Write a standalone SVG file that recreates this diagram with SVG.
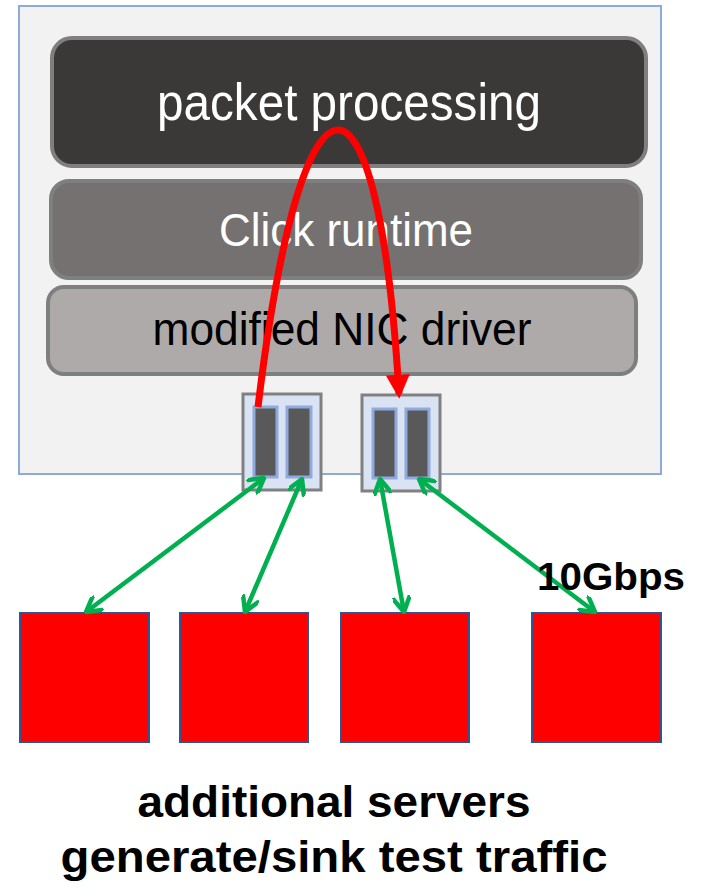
<svg xmlns="http://www.w3.org/2000/svg" width="702" height="891" viewBox="0 0 702 891">
<defs>
<style>
.t{font-family:"Liberation Sans","Open Sans",sans-serif;text-anchor:middle}
.layer{stroke:#7f7f7f;stroke-width:4}
.nic{fill:#dae3f3;stroke:#808080;stroke-width:3}
.port{fill:#595959;stroke:#8faadc;stroke-width:3}
.srv{fill:#ff0000;stroke:#2f5597;stroke-width:2}
.g{fill:none;stroke:#00b050;stroke-width:4.5;marker-start:url(#ga);marker-end:url(#ga)}
</style>
<marker id="ga" viewBox="-16 -9 18 18" markerWidth="18" markerHeight="18" refX="0" refY="0" orient="auto-start-reverse" markerUnits="userSpaceOnUse">
<path d="M-14,-8 L0,0 L-14,8" fill="none" stroke="#00b050" stroke-width="4.5" stroke-linecap="round" stroke-linejoin="round"/>
</marker>
<marker id="ra" viewBox="0 0 10 10" markerWidth="24" markerHeight="24" refX="8" refY="5" orient="auto" markerUnits="userSpaceOnUse">
<path d="M0,0 L10,5 L0,10 Z" fill="#ff0000"/>
</marker>
</defs>
<rect id="host" x="19" y="6" width="642" height="468" fill="#f2f2f2" stroke="#8eaadb" stroke-width="2"/>
<g id="packet-processing">
<rect class="layer" x="52" y="38" width="594" height="128" rx="20" fill="#3b3938"/>
<text class="t" x="349" y="120" font-size="52" fill="#ffffff" textLength="384" lengthAdjust="spacingAndGlyphs">packet processing</text>
</g>
<g id="click-runtime">
<rect class="layer" x="51" y="181" width="590" height="97" rx="18" fill="#767171"/>
<text class="t" x="346" y="246" font-size="46" fill="#ffffff" textLength="254" lengthAdjust="spacingAndGlyphs">Click runtime</text>
</g>
<g id="nic-driver">
<rect class="layer" x="48" y="287" width="588" height="87" rx="16" fill="#aeaaaa"/>
<text class="t" x="342" y="345" font-size="46" fill="#000000" textLength="379" lengthAdjust="spacingAndGlyphs">modified NIC driver</text>
</g>
<g id="nic1">
<rect class="nic" x="243" y="394" width="78" height="96"/>
<rect class="port" x="254" y="407" width="23" height="70"/>
<rect class="port" x="287" y="407" width="24" height="70"/>
</g>
<g id="nic2">
<rect class="nic" x="362" y="395" width="78" height="96"/>
<rect class="port" x="373" y="409" width="23" height="69"/>
<rect class="port" x="406" y="409" width="23" height="69"/>
</g>
<g id="server1"><rect class="srv" x="20" y="613" width="129" height="129"/></g>
<g id="server2"><rect class="srv" x="180" y="613" width="128" height="129"/></g>
<g id="server3"><rect class="srv" x="341" y="613" width="128" height="129"/></g>
<g id="server4"><rect class="srv" x="532" y="613" width="129" height="129"/></g>
<g id="connectors">
<path d="M258,407 C302,40 378,40 399,394" fill="none" stroke="#ff0000" stroke-width="7" marker-end="url(#ra)"/>
<line class="g" x1="264" y1="478" x2="86" y2="612"/>
<line class="g" x1="302" y1="479" x2="245" y2="612"/>
<line class="g" x1="380" y1="479" x2="404" y2="612"/>
<line class="g" x1="419" y1="479" x2="595" y2="612"/>
</g>
<text class="t" x="611" y="590" font-size="39" font-weight="bold" fill="#000000" textLength="148" lengthAdjust="spacingAndGlyphs">10Gbps</text>
<text class="t" x="334" y="817" font-size="45" font-weight="bold" fill="#000000" textLength="393" lengthAdjust="spacingAndGlyphs">additional servers</text>
<text class="t" x="334" y="872" font-size="45" font-weight="bold" fill="#000000" textLength="547" lengthAdjust="spacingAndGlyphs">generate/sink test traffic</text>
</svg>
